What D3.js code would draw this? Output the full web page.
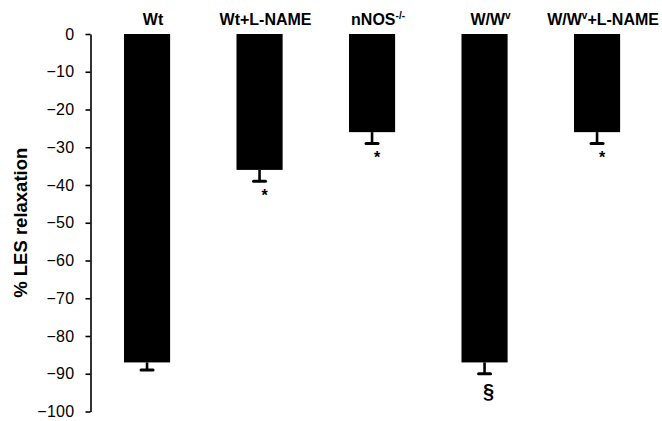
<!DOCTYPE html>
<html>
<head>
<meta charset="utf-8">
<script src="https://cdn.jsdelivr.net/npm/d3@7"></script>
<style>
  html, body { margin: 0; padding: 0; background: #fff; }
  svg { display: block; }
  text { font-family: Arial, "Liberation Sans", Helvetica, sans-serif; fill: #000; }
</style>
</head>
<body>
<svg id="chart" width="662" height="421"></svg>
<script>
const categories = ["Wt", "Wt+L-NAME", "nNOS", "W/Wv", "W/Wv+L-NAME"];
const values = [-87, -36, -26, -87, -26];
const errors = [2, 3, 3, 3, 3];
const marks = ["", "*", "*", "§", "*"];
const yTicks = [0, -10, -20, -30, -40, -50, -60, -70, -80, -90, -100];

const svg = d3.select("#chart");
const y = d3.scaleLinear().domain([0, -100]).range([34, 411.5]);
const x = d3.scaleBand().domain(categories).range([90.8, 653.3])
  .paddingInner(0.59).paddingOuter(0.295);

// y axis
const yAxis = d3.axisLeft(y).tickValues(yTicks).tickSize(5).tickSizeOuter(0).tickPadding(11);
const gy = svg.append("g").attr("transform", "translate(90.5,0)").call(yAxis);
gy.select(".domain").attr("stroke", "#000").attr("stroke-width", 1.6);
gy.selectAll(".tick line").attr("stroke", "#000").attr("stroke-width", 1.6);
gy.selectAll(".tick text").attr("font-size", 16).attr("fill", "#000")
  .attr("letter-spacing", "0.3px");

// axis title
svg.append("text")
  .attr("transform", `translate(27,${y(-50)}) rotate(-90)`)
  .attr("text-anchor", "middle")
  .attr("font-size", 18.5).attr("font-weight", "bold")
  .text("% LES relaxation");

// bars
svg.append("g").selectAll("rect").data(categories).join("rect")
  .attr("x", d => x(d))
  .attr("y", y(0))
  .attr("width", x.bandwidth())
  .attr("height", (d, i) => y(values[i]) - y(0))
  .attr("fill", "#000");

// error bars (downward only)
const eg = svg.append("g");
categories.forEach((c, i) => {
  const cx = x(c) + x.bandwidth() / 2;
  const yb = y(values[i]);
  const ye = y(values[i] - errors[i]);
  eg.append("line").attr("x1", cx).attr("x2", cx).attr("y1", yb).attr("y2", ye)
    .attr("stroke", "#000").attr("stroke-width", 2.6);
  eg.append("line").attr("x1", cx - 6).attr("x2", cx + 6).attr("y1", ye).attr("y2", ye)
    .attr("stroke", "#000").attr("stroke-width", 3).attr("stroke-linecap", "round");
});

// significance marks
svg.append("g").selectAll("text").data(categories).join("text")
  .attr("x", (d, i) => x(d) + x.bandwidth() / 2 + (marks[i] === "§" ? 4 : 5))
  .attr("y", (d, i) => y(values[i] - errors[i]) + (marks[i] === "§" ? 24 : 20))
  .attr("text-anchor", "middle")
  .attr("font-size", (d, i) => marks[i] === "§" ? 20 : 16)
  .attr("font-weight", "bold")
  .text((d, i) => marks[i]);

// category labels
const labels = svg.append("g");
const labelFor = (c, sel) => {
  if (c === "nNOS") {
    sel.append("tspan").text("nNOS");
    sel.append("tspan").attr("dy", -6).attr("font-size", 10).text("-/-");
  } else if (c.startsWith("W/Wv")) {
    sel.append("tspan").text("W/W");
    sel.append("tspan").attr("dy", -6).attr("font-size", 10).text("v");
    if (c.length > 4) sel.append("tspan").attr("dy", 6).text(c.slice(4));
  } else {
    sel.text(c);
  }
};
categories.forEach(c => {
  const t = labels.append("text")
    .attr("x", x(c) + x.bandwidth() / 2 + 6)
    .attr("y", 25)
    .attr("text-anchor", "middle")
    .attr("font-size", 16)
    .attr("font-weight", "bold");
  labelFor(c, t);
});
</script>
</body>
</html>
